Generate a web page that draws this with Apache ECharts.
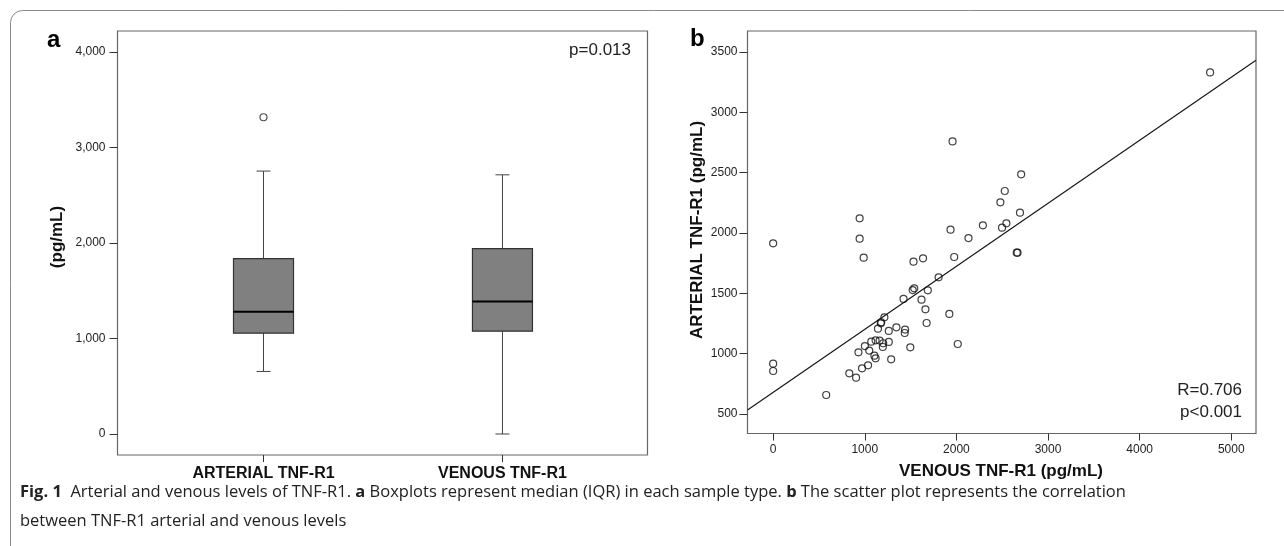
<!DOCTYPE html>
<html>
<head>
<meta charset="utf-8">
<title>TNF-R1</title>
<script src="https://cdn.jsdelivr.net/npm/echarts@6/dist/echarts.min.js"></script>
<style>
  html, body { margin: 0; padding: 0; background: #fff; }
  #main { width: 1284px; height: 546px; }
</style>
</head>
<body>
<div id="main"></div>
<script>
// ---- data ----
var boxCategories = ['ARTERIAL TNF-R1', 'VENOUS TNF-R1'];
var boxMin    = [655, 0];
var boxQ1     = [1056, 1077];
var boxMedian = [1279, 1387];
var boxQ3     = [1836, 1941];
var boxMax    = [2753, 2714];
var boxOutliers = [[1, 3317]];
var boxTicks = [0, 1000, 2000, 3000, 4000];

// venous (x) vs arterial (y)
var scatterPoints = [
  [4769, 3331], [1958, 2759], [2707, 2486], [2528, 2348], [2480, 2254],
  [2694, 2168], [944, 2121], [2546, 2080], [2498, 2044], [2289, 2063],
  [1936, 2027], [0, 1914], [944, 1953], [2132, 1958], [2659, 1837],
  [2667, 1837], [988, 1795], [1636, 1790], [1976, 1801], [1532, 1762],
  [1806, 1632], [1540, 1541], [1523, 1527], [1688, 1525], [1423, 1453],
  [1619, 1447], [1662, 1367], [1923, 1329], [1214, 1301], [1179, 1260],
  [1175, 1251], [1675, 1254], [1345, 1218], [1440, 1199], [1262, 1188],
  [1436, 1171], [1144, 1207], [1071, 1099], [1118, 1110], [1162, 1108],
  [1262, 1097], [1201, 1086], [1001, 1063], [1197, 1055], [2015, 1080],
  [1497, 1052], [931, 1011], [1049, 1025], [1105, 983], [1118, 961],
  [1288, 953], [0, 917], [0, 856], [970, 878], [1036, 903],
  [831, 837], [905, 801], [579, 657]
];
var fitLine = [[-280, 533], [5270, 3431]];
var scatterXTicks = [0, 1000, 2000, 3000, 4000, 5000];
var scatterYTicks = [500, 1000, 1500, 2000, 2500, 3000, 3500];

var FONT = "'Liberation Sans', Arial, sans-serif";
var CAP_FONT = "'Open Sans', 'Noto Sans', sans-serif";

var chart = echarts.init(document.getElementById('main'), null, { renderer: 'canvas' });

var boxData = boxCategories.map(function (c, i) {
  return [i + 1, boxMin[i], boxQ1[i], boxMedian[i], boxQ3[i], boxMax[i]];
});

function renderBox(params, api) {
  var x = api.value(0);
  var lo = api.coord([x, api.value(1)]);
  var q1 = api.coord([x, api.value(2)]);
  var md = api.coord([x, api.value(3)]);
  var q3 = api.coord([x, api.value(4)]);
  var hi = api.coord([x, api.value(5)]);
  var cx = lo[0], hw = 30, cw = 7;
  var wStyle = { stroke: '#444', lineWidth: 1 };
  return {
    type: 'group',
    children: [
      { type: 'line', shape: { x1: cx, y1: q1[1], x2: cx, y2: lo[1] }, style: wStyle },
      { type: 'line', shape: { x1: cx, y1: q3[1], x2: cx, y2: hi[1] }, style: wStyle },
      { type: 'line', shape: { x1: cx - cw, y1: lo[1], x2: cx + cw, y2: lo[1] }, style: wStyle },
      { type: 'line', shape: { x1: cx - cw, y1: hi[1], x2: cx + cw, y2: hi[1] }, style: wStyle },
      { type: 'rect', shape: { x: cx - hw, y: q3[1], width: hw * 2, height: q1[1] - q3[1] },
        style: { fill: '#808080', stroke: '#333', lineWidth: 1.2 } },
      { type: 'line', shape: { x1: cx - hw, y1: md[1], x2: cx + hw, y2: md[1] },
        style: { stroke: '#000', lineWidth: 2 } }
    ]
  };
}

var option = {
  animation: false,
  textStyle: { fontFamily: FONT },
  grid: [
    { left: 117.5, right: 636.5, top: 31, bottom: 91, show: true,
      borderColor: '#666', borderWidth: 1.2, backgroundColor: 'transparent' },
    { left: 747.5, right: 28, top: 31, bottom: 112.5, show: true,
      borderColor: '#666', borderWidth: 1.2, backgroundColor: 'transparent' }
  ],
  xAxis: [
    { gridIndex: 0, type: 'value', min: 0.389, max: 2.607,
      splitLine: { show: false },
      axisLine: { show: false, onZero: false },
      axisTick: { show: true, length: 7, lineStyle: { color: '#333' }, customValues: [1, 2] },
      axisLabel: { customValues: [1, 2], margin: 11, fontSize: 16, fontWeight: 'bold', color: '#111',
        fontFamily: FONT,
        formatter: function (v) { return boxCategories[Math.round(v) - 1] || ''; } } },
    { gridIndex: 1, type: 'value', min: -280, max: 5270,
      splitLine: { show: false },
      axisLine: { show: false, onZero: false },
      axisTick: { show: true, length: 7, lineStyle: { color: '#333' }, customValues: scatterXTicks },
      axisLabel: { customValues: scatterXTicks, margin: 10, fontSize: 12, color: '#222',
        fontFamily: FONT, formatter: function (v) { return String(v); } } }
  ],
  yAxis: [
    { gridIndex: 0, type: 'value', min: -220, max: 4220,
      splitLine: { show: false },
      axisLine: { show: false, onZero: false },
      axisTick: { show: true, length: 8, lineStyle: { color: '#333' }, customValues: boxTicks },
      axisLabel: { customValues: boxTicks, margin: 12, fontSize: 12, color: '#222', fontFamily: FONT,
        formatter: function (v) { return v.toLocaleString('en-US'); } } },
    { gridIndex: 1, type: 'value', min: 338, max: 3674,
      splitLine: { show: false },
      axisLine: { show: false, onZero: false },
      axisTick: { show: true, length: 8, lineStyle: { color: '#333' }, customValues: scatterYTicks },
      axisLabel: { customValues: scatterYTicks, margin: 10, fontSize: 12, color: '#222', fontFamily: FONT,
        formatter: function (v) { return String(v); } } }
  ],
  series: [
    { type: 'custom', xAxisIndex: 0, yAxisIndex: 0, data: boxData, renderItem: renderBox,
      encode: { x: 0, y: [1, 2, 3, 4, 5] } },
    { type: 'scatter', xAxisIndex: 0, yAxisIndex: 0, data: boxOutliers, symbol: 'circle', symbolSize: 7,
      itemStyle: { color: '#fff', borderColor: '#222', borderWidth: 1.2 } },
    { type: 'line', xAxisIndex: 1, yAxisIndex: 1, data: fitLine, showSymbol: false, clip: true,
      lineStyle: { color: '#111', width: 1.1 } },
    { type: 'scatter', xAxisIndex: 1, yAxisIndex: 1, data: scatterPoints, symbol: 'circle', symbolSize: 7,
      itemStyle: { color: 'rgba(255,255,255,0)', borderColor: '#111', borderWidth: 1.2 } }
  ],
  graphic: [
    { type: 'rect', shape: { x: 10.5, y: 10.5, width: 1300, height: 560, r: 12 },
      style: { fill: 'none', stroke: '#8a8a8a', lineWidth: 1 }, silent: true },
    { type: 'text', x: 47, y: 40, style: { text: 'a', font: 'bold 24px ' + FONT, fill: '#000', verticalAlign: 'middle' } },
    { type: 'text', x: 690, y: 39, style: { text: 'b', font: 'bold 24px ' + FONT, fill: '#000', verticalAlign: 'middle' } },
    { type: 'text', x: 631, y: 50, style: { text: 'p=0.013', font: '17px ' + FONT, fill: '#222', align: 'right', verticalAlign: 'middle' } },
    { type: 'text', x: 1242, y: 390, style: { text: 'R=0.706', font: '17px ' + FONT, fill: '#222', align: 'right', verticalAlign: 'middle' } },
    { type: 'text', x: 1242, y: 412, style: { text: 'p<0.001', font: '17px ' + FONT, fill: '#222', align: 'right', verticalAlign: 'middle' } },
    { type: 'text', x: 57, y: 237, rotation: Math.PI / 2,
      style: { text: '(pg/mL)', font: 'bold 17px ' + FONT, fill: '#111', align: 'center', verticalAlign: 'middle' } },
    { type: 'text', x: 697, y: 230, rotation: Math.PI / 2,
      style: { text: 'ARTERIAL TNF-R1 (pg/mL)', font: 'bold 17px ' + FONT, fill: '#111', align: 'center', verticalAlign: 'middle' } },
    { type: 'text', x: 1001, y: 471,
      style: { text: 'VENOUS TNF-R1 (pg/mL)', font: 'bold 17px ' + FONT, fill: '#111', align: 'center', verticalAlign: 'middle' } },
    { type: 'text', x: 20, y: 492,
      style: {
        text: '{b|Fig. 1}  Arterial and venous levels of TNF-R1. {b|a} Boxplots represent median (IQR) in each sample type. {b|b} The scatter plot represents the correlation',
        font: '16.5px ' + CAP_FONT, fill: '#222', verticalAlign: 'middle',
        rich: { b: { fontWeight: 'bold', fontSize: 16.5, fontFamily: CAP_FONT, fill: '#222' } }
      } },
    { type: 'text', x: 20, y: 521,
      style: { text: 'between TNF-R1 arterial and venous levels', font: '16.5px ' + CAP_FONT, fill: '#222', verticalAlign: 'middle' } }
  ]
};

chart.setOption(option);
window.addEventListener('resize', chart.resize);
</script>
</body>
</html>
